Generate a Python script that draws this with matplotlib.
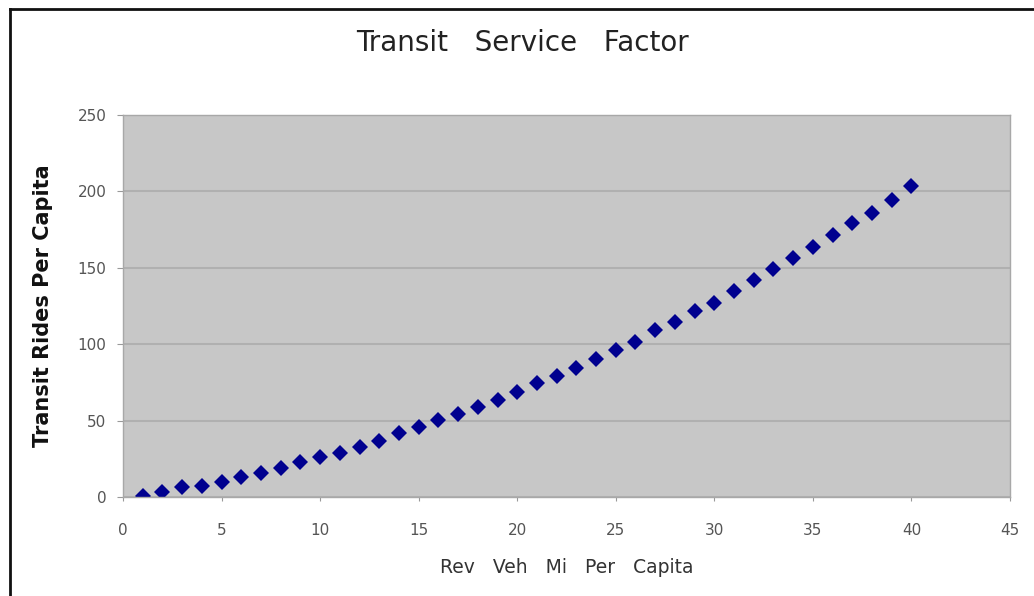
import matplotlib
matplotlib.use('Agg')
import matplotlib.pyplot as plt
from matplotlib.lines import Line2D

# valeurs
rev_veh_mi = list(range(1, 41))
rides = [0.5, 3.5, 6.3, 7.2, 10.0, 12.9, 15.9, 18.8, 23.1, 26.0,
         28.6, 32.5, 36.8, 41.7, 45.6, 50.4, 54.3, 58.7, 63.5, 68.9,
         74.8, 79.2, 84.6, 90.3, 95.9, 101.6, 109.3, 114.7, 121.7, 127.2,
         134.8, 142.0, 149.0, 156.2, 163.4, 171.5, 179.1, 186.1, 194.4, 203.5]
xticks = [0, 5, 10, 15, 20, 25, 30, 35, 40, 45]
yticks = [0, 50, 100, 150, 200, 250]

W, H = 1034, 596
fig = plt.figure(figsize=(W/100, H/100), dpi=100)
ax = fig.add_axes([123/W, 1 - 497/H, 887/W, 382/H])

ax.set_facecolor('#c7c7c7')
ax.plot(rev_veh_mi, rides, 'D', color='#00008f', markersize=8.5, markeredgewidth=0)

ax.set_xlim(0, 45)
ax.set_ylim(0, 250)
ax.set_xticks(xticks)
ax.set_yticks(yticks)
ax.yaxis.grid(True, color='#b0b0b0', linewidth=1.5)
ax.set_axisbelow(True)

for s in ax.spines.values():
    s.set_color('#a8a8a8')
    s.set_linewidth(1)

ax.tick_params(axis='y', direction='out', length=4, color='#999999',
               labelsize=11, labelcolor='#555555', pad=8)
ax.tick_params(axis='x', direction='out', length=3, color='#999999',
               labelsize=11, labelcolor='#555555', pad=16)

ax.set_ylabel('Transit Rides Per Capita', fontsize=15, fontweight='bold', color='#111111')
ax.yaxis.set_label_coords(-0.079, 0.5)
ax.set_xlabel('Rev   Veh   Mi   Per   Capita', fontsize=13.5, color='#333333')
ax.xaxis.set_label_coords(0.5, -0.16)

fig.text(522/W, 1 - 43/H, 'Transit   Service   Factor', fontsize=20,
         color='#222222', ha='center', va='center')

# cadre du graphique (coupé à droite et en bas)
fig.add_artist(Line2D([10/W, 10/W], [0, 1 - 9/H], color='#111111', linewidth=2))
fig.add_artist(Line2D([10/W, 1], [1 - 9/H, 1 - 9/H], color='#111111', linewidth=2))

fig.savefig('out.png', dpi=100)
